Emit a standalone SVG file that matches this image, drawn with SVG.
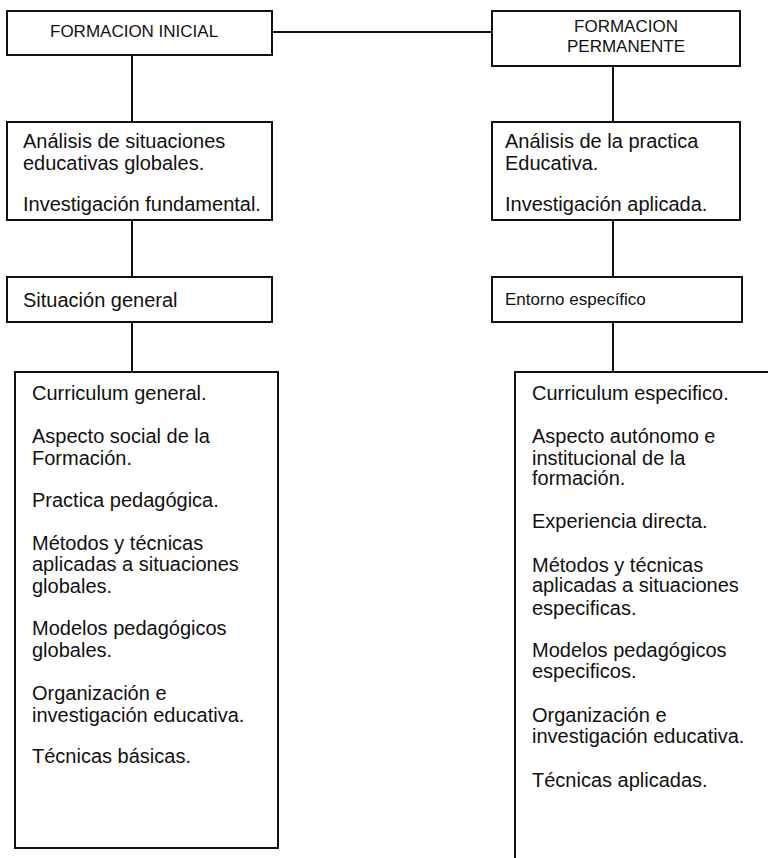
<svg xmlns="http://www.w3.org/2000/svg" width="768" height="858" viewBox="0 0 768 858">
<style>
.box{fill:none;stroke:#111;stroke-width:2}
.ln{fill:none;stroke:#111;stroke-width:2}
text{font-family:"Liberation Sans",Arial,sans-serif;fill:#111}
.t{font-size:17px}
.m{font-size:20px}
.s{font-size:17px}
</style>
<rect width="768" height="858" fill="#fff"/>
<g id="connectors">
<line class="ln" x1="272" y1="32" x2="492" y2="32"/>
<line class="ln" x1="132" y1="55" x2="132" y2="122"/>
<line class="ln" x1="613" y1="66" x2="613" y2="122"/>
<line class="ln" x1="132" y1="220" x2="132" y2="277"/>
<line class="ln" x1="613" y1="220" x2="613" y2="277"/>
<line class="ln" x1="132" y1="322" x2="132" y2="372"/>
<line class="ln" x1="613" y1="322" x2="613" y2="372"/>
</g>
<g id="formacion-inicial">
<rect class="box" x="7" y="11" width="265" height="44"/>
<text class="t" x="50" y="37">FORMACION  INICIAL</text>
</g>
<g id="formacion-permanente">
<rect class="box" x="492" y="11" width="248" height="55"/>
<text class="t" x="626" y="32" text-anchor="middle">FORMACION</text>
<text class="t" x="626" y="52" text-anchor="middle">PERMANENTE</text>
</g>
<g id="analisis-global">
<rect class="box" x="7" y="122" width="265" height="98"/>
<text class="m" x="23" y="148">Análisis de situaciones</text>
<text class="m" x="23" y="170">educativas globales.</text>
<text class="m" x="23" y="211">Investigación fundamental.</text>
</g>
<g id="analisis-practica">
<rect class="box" x="492" y="122" width="248" height="98"/>
<text class="m" x="505" y="148">Análisis de la practica</text>
<text class="m" x="505" y="170">Educativa.</text>
<text class="m" x="505" y="211">Investigación aplicada.</text>
</g>
<g id="situacion-general">
<rect class="box" x="7" y="277" width="265" height="45"/>
<text class="m" x="23" y="307">Situación general</text>
</g>
<g id="entorno-especifico">
<rect class="box" x="492" y="277" width="250" height="45"/>
<text class="s" x="505" y="305">Entorno específico</text>
</g>
<g id="curriculum-general">
<rect class="box" x="15" y="372" width="263" height="476"/>
<text class="m" x="32" y="400">Curriculum general.</text>
<text class="m" x="32" y="443">Aspecto social de la</text>
<text class="m" x="32" y="465">Formación.</text>
<text class="m" x="32" y="507">Practica pedagógica.</text>
<text class="m" x="32" y="550">Métodos y técnicas</text>
<text class="m" x="32" y="571">aplicadas a situaciones</text>
<text class="m" x="32" y="593">globales.</text>
<text class="m" x="32" y="635">Modelos pedagógicos</text>
<text class="m" x="32" y="657">globales.</text>
<text class="m" x="32" y="700">Organización e</text>
<text class="m" x="32" y="722">investigación educativa.</text>
<text class="m" x="32" y="763">Técnicas básicas.</text>
</g>
<g id="curriculum-especifico">
<path class="box" d="M515,858 V372 H768"/>
<text class="m" x="532" y="400">Curriculum especifico.</text>
<text class="m" x="532" y="443">Aspecto autónomo e</text>
<text class="m" x="532" y="465">institucional de la</text>
<text class="m" x="532" y="485">formación.</text>
<text class="m" x="532" y="528">Experiencia directa.</text>
<text class="m" x="532" y="572">Métodos y técnicas</text>
<text class="m" x="532" y="592">aplicadas a situaciones</text>
<text class="m" x="532" y="615">especificas.</text>
<text class="m" x="532" y="657">Modelos pedagógicos</text>
<text class="m" x="532" y="678">especificos.</text>
<text class="m" x="532" y="722">Organización e</text>
<text class="m" x="532" y="743">investigación educativa.</text>
<text class="m" x="532" y="787">Técnicas aplicadas.</text>
</g>
</svg>
